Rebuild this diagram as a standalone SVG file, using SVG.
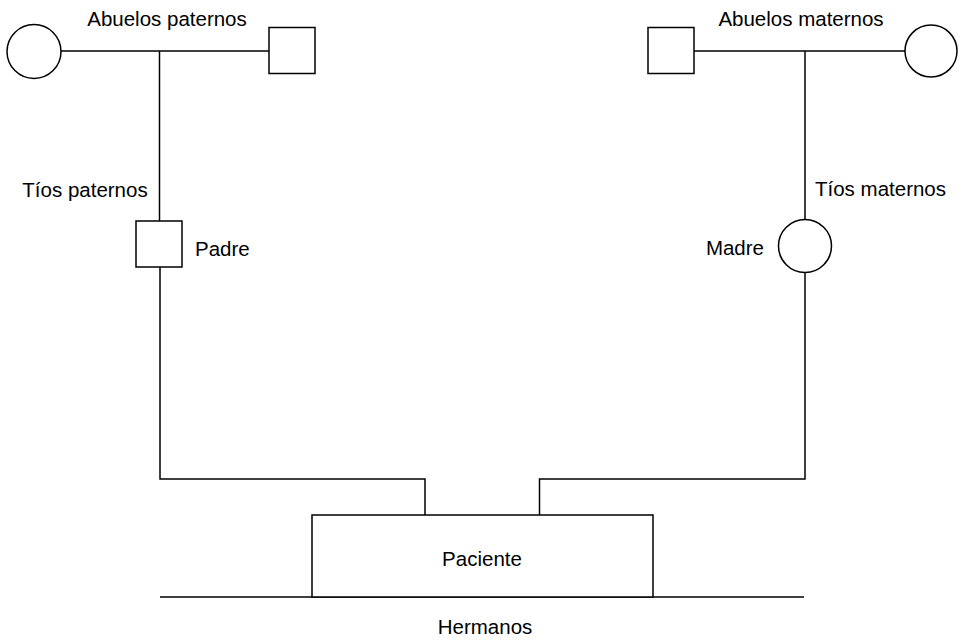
<svg xmlns="http://www.w3.org/2000/svg" width="963" height="641" viewBox="0 0 963 641">
<style>
.s{fill:#fff;stroke:#000;stroke-width:1.5}
.c{fill:none;stroke:#000;stroke-width:1.5}
text{font-family:"Liberation Sans",Arial,sans-serif;font-size:20.5px;fill:#000}
.m{text-anchor:middle}
.e{text-anchor:end}
</style>
<rect width="963" height="641" fill="#fff"/>
<g id="connectors">
<path class="c" d="M61 51H269"/>
<path class="c" d="M159.5 51V221"/>
<path class="c" d="M160 267V479H425V515"/>
<path class="c" d="M694 51H905"/>
<path class="c" d="M805 51V219.5"/>
<path class="c" d="M805 272.5V479H539.5V515"/>
<path class="c" d="M160 597H804"/>
</g>
<g id="abuela-paterna"><circle class="s" cx="34" cy="51.5" r="27"/></g>
<g id="abuelo-paterno"><rect class="s" x="269" y="27.5" width="46" height="46"/></g>
<g id="label-abuelos-paternos"><text class="m" x="167" y="26">Abuelos paternos</text></g>
<g id="abuelo-materno"><rect class="s" x="648" y="27.5" width="46" height="46"/></g>
<g id="abuela-materna"><circle class="s" cx="931" cy="51" r="26"/></g>
<g id="label-abuelos-maternos"><text class="m" x="801" y="26">Abuelos maternos</text></g>
<g id="tios-paternos"><text class="m" x="85" y="197">Tíos paternos</text></g>
<g id="padre"><rect class="s" x="136" y="221" width="46" height="46"/><text x="195" y="256">Padre</text></g>
<g id="tios-maternos"><text x="815" y="196">Tíos maternos</text></g>
<g id="madre"><circle class="s" cx="805" cy="246" r="26.5"/><text class="e" x="764" y="255">Madre</text></g>
<g id="paciente"><rect class="s" x="312" y="515" width="341" height="82"/><text class="m" x="482" y="566">Paciente</text></g>
<g id="hermanos"><text class="m" x="485" y="634">Hermanos</text></g>
</svg>
